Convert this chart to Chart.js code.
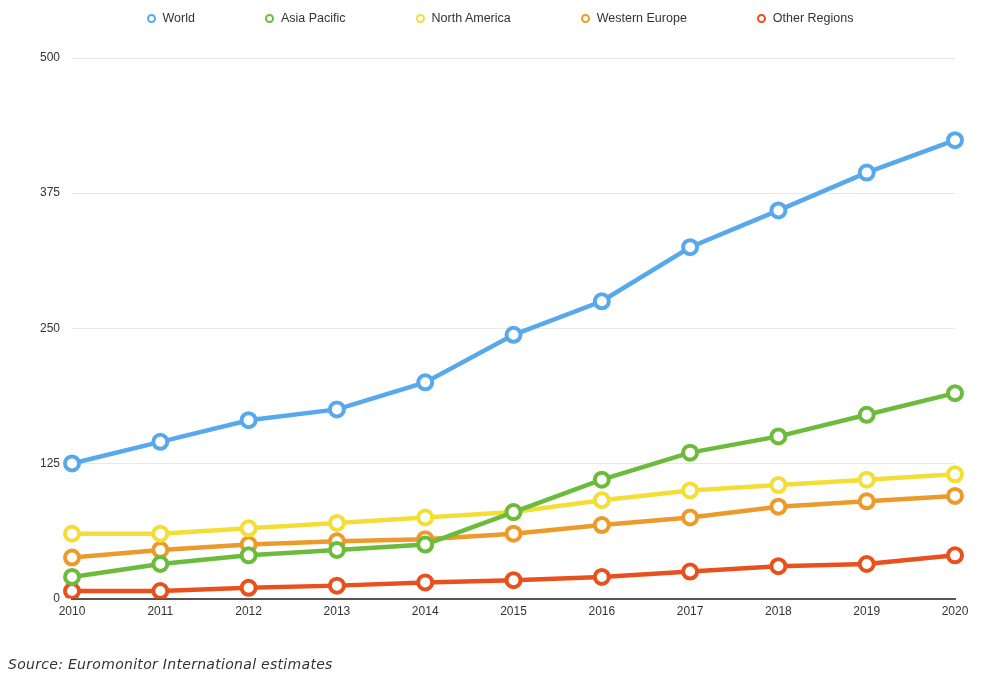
<!DOCTYPE html>
<html>
<head>
<meta charset="utf-8">
<script src="https://cdn.jsdelivr.net/npm/chart.js@4/dist/chart.umd.min.js"></script>
<style>
  html, body { margin: 0; padding: 0; background: #fff; }
  #wrap { position: relative; width: 1000px; height: 679px; }
  #legend {
    position: absolute; left: 0; top: 11px; width: 1000px;
    display: flex; justify-content: center;
    font-family: "Liberation Sans", sans-serif; font-size: 12.5px; color: #333;
  }
  #legend .item { display: flex; align-items: center; margin: 0 35px; }
  #legend .dot {
    width: 5px; height: 5px; border-radius: 50%; border: 2px solid; margin-right: 7px;
  }
  #source {
    position: absolute; left: 8px; top: 656px;
    font-family: "DejaVu Sans", sans-serif; font-style: italic; font-weight: 200;
    font-size: 14px; color: #333; letter-spacing: 0.3px;
  }
</style>
</head>
<body>
<div id="wrap">
  <canvas id="chart" width="1000" height="679"></canvas>
  <div id="legend"></div>
  <div id="source">Source: Euromonitor International estimates</div>
</div>
<script>
// years on the x axis
const years = ["2010", "2011", "2012", "2013", "2014", "2015", "2016", "2017", "2018", "2019", "2020"];

// series values
const world = [125, 145, 165, 175, 200, 244, 275, 325, 359, 394, 424];
const asiaPacific = [20, 32, 40, 45, 50, 80, 110, 135, 150, 170, 190];
const northAmerica = [60, 60, 65, 70, 75, 80, 91, 100, 105, 110, 115];
const westernEurope = [38, 45, 50, 53, 55, 60, 68, 75, 85, 90, 95];
const otherRegions = [7, 7, 10, 12, 15, 17, 20, 25, 30, 32, 40];

// y tick values
const yTicks = [0, 125, 250, 375, 500];

function series(label, data, color) {
  return {
    label: label,
    data: data,
    borderColor: color,
    backgroundColor: "#ffffff",
    borderWidth: 4.5,
    pointRadius: 7,
    pointBorderWidth: 4,
    pointBackgroundColor: "#ffffff",
    pointBorderColor: color,
    tension: 0
  };
}

const ctx = document.getElementById("chart").getContext("2d");
const chart = new Chart(ctx, {
  type: "line",
  data: {
    labels: years,
    datasets: [
      series("World", world, "#58a9ec"),
      series("Asia Pacific", asiaPacific, "#6cbb3c"),
      series("North America", northAmerica, "#f3de38"),
      series("Western Europe", westernEurope, "#eb9a2b"),
      series("Other Regions", otherRegions, "#e8511e")
    ]
  },
  options: {
    responsive: false,
    animation: false,
    layout: { padding: { left: 28, right: 45, top: 58, bottom: 54 } },
    scales: {
      y: {
        min: 0,
        max: 500,
        afterBuildTicks: axis => { axis.ticks = yTicks.map(v => ({ value: v })); },
        grid: { color: "#e9e9e9", lineWidth: 1, drawTicks: false },
        border: { display: false },
        ticks: {
          padding: 12,
          color: "#333",
          font: { size: 12, family: "Liberation Sans" }
        }
      },
      x: {
        offset: false,
        grid: { color: "transparent", drawTicks: false },
        border: { display: true, color: "#555", width: 2 },
        ticks: {
          padding: 6,
          maxRotation: 0,
          color: "#333",
          font: { size: 12, family: "Liberation Sans" }
        }
      }
    },
    plugins: {
      legend: { display: false },
      tooltip: { enabled: false }
    }
  }
});

// html legend built from the datasets
const legendEl = document.getElementById("legend");
chart.data.datasets.forEach(ds => {
  const item = document.createElement("div");
  item.className = "item";
  const dot = document.createElement("span");
  dot.className = "dot";
  dot.style.borderColor = ds.borderColor;
  item.appendChild(dot);
  item.appendChild(document.createTextNode(ds.label));
  legendEl.appendChild(item);
});
</script>
</body>
</html>
